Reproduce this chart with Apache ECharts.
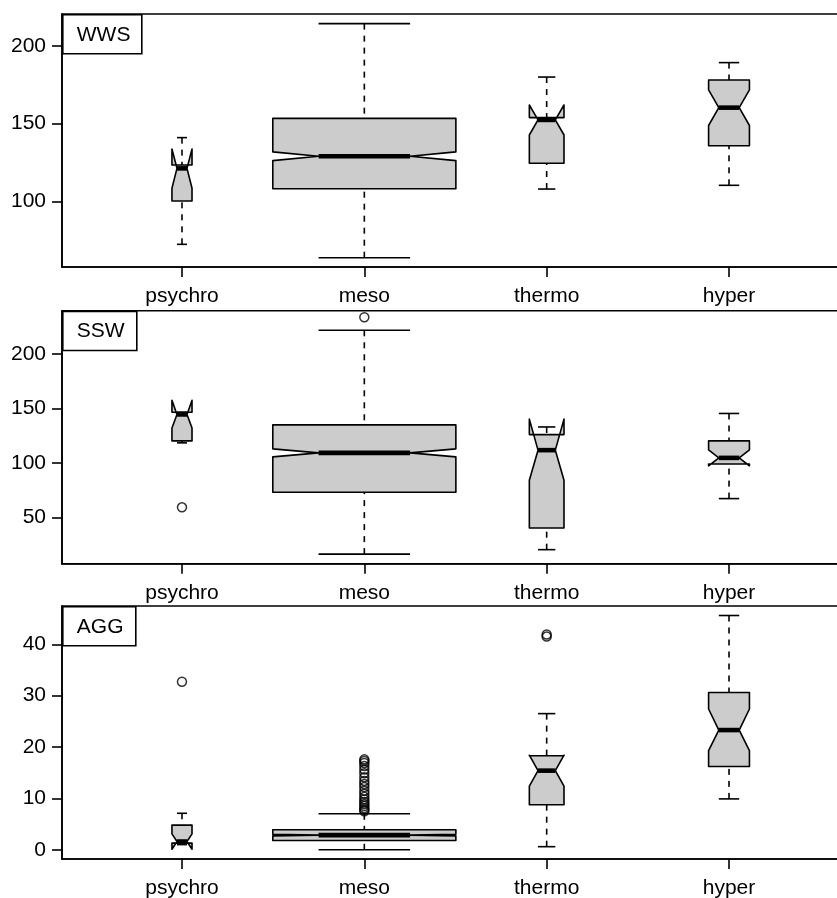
<!DOCTYPE html>
<html>
<head>
<meta charset="utf-8">
<title>WWS / SSW / AGG</title>
<script src="https://cdn.jsdelivr.net/npm/echarts@6/dist/echarts.min.js"></script>
<style>
  html, body { margin: 0; padding: 0; background: #fff; }
  #chart { width: 837px; height: 898px; }
</style>
</head>
<body>
<div id="chart"></div>
<script>
// 分组名称
const categories = ['psychro', 'meso', 'thermo', 'hyper']
// 箱体半宽（varwidth，按样本量）
const groupWidth = [0.055, 0.502, 0.095, 0.112]

// 每行：下须, Q1, 中位数, Q3, 上须, 缺口下限, 缺口上限
const wwsStats = [
  [72.3, 100.2, 121.2, 123.4, 141.0, 108.4, 133.7],
  [63.7, 108.1, 129.0, 153.4, 214.4, 126.2, 131.8],
  [107.9, 124.5, 152.4, 153.9, 180.0, 142.7, 162.0],
  [110.3, 135.8, 160.3, 178.1, 189.3, 148.8, 171.8]
]
const sswStats = [
  [118.4, 120.2, 144.5, 146.5, 146.5, 132.0, 157.5],
  [16.2, 73.0, 109.2, 134.9, 221.8, 105.5, 112.9],
  [20.3, 40.2, 111.7, 126.0, 133.0, 84.0, 140.2],
  [67.2, 99.0, 104.6, 120.2, 145.4, 97.3, 111.9]
]
const aggStats = [
  [1.0, 1.3, 1.6, 4.8, 7.1, 0.1, 3.1],
  [0.0, 1.8, 2.85, 3.9, 7.0, 2.7, 3.0],
  [0.6, 8.75, 15.4, 18.3, 26.5, 12.4, 18.4],
  [9.9, 16.2, 23.3, 30.6, 45.6, 19.3, 27.4]
]

// 离群点 [组序号, 值]
const wwsOutliers = []
const sswOutliers = [[1, 59.2], [2, 233.8]]
const aggOutliers = [
  [1, 32.7],
  [2, 7.5], [2, 7.8], [2, 8.1], [2, 8.5], [2, 8.9], [2, 9.3], [2, 9.8], [2, 10.3],
  [2, 10.9], [2, 11.5], [2, 12.2], [2, 12.8], [2, 13.4], [2, 14.1], [2, 14.9],
  [2, 15.6], [2, 16.3], [2, 16.9], [2, 17.3], [2, 17.6],
  [3, 41.5], [3, 41.9]
]

// y轴刻度
const wwsTicks = [100, 150, 200]
const sswTicks = [50, 100, 150, 200]
const aggTicks = [0, 10, 20, 30, 40]

const panels = [
  { name: 'WWS', stats: wwsStats, outliers: wwsOutliers, ticks: wwsTicks, min: 57.7, max: 220.6, top: 14, boxW: 79 },
  { name: 'SSW', stats: sswStats, outliers: sswOutliers, ticks: sswTicks, min: 7.4, max: 239.8, top: 310.7, boxW: 74 },
  { name: 'AGG', stats: aggStats, outliers: aggOutliers, ticks: aggTicks, min: -1.8, max: 47.45, top: 606, boxW: 73 }
]

const FONT = 'Liberation Sans, Arial, Helvetica, sans-serif'
const FONT_SIZE = 21
const GRID_LEFT = 62
const GRID_RIGHT = -12 // 右边框在画面外
const GRID_H = 253

/** 画带缺口的箱线 */
const renderBox = (params, api) => {
  const x = api.value(0)
  const lw = api.value(1)
  const q1 = api.value(2)
  const med = api.value(3)
  const q3 = api.value(4)
  const uw = api.value(5)
  const cl = api.value(6)
  const cu = api.value(7)
  const w = api.value(8)
  const nf = 0.5
  const P = (dx, y) => api.coord([x + dx, y])
  const pts = [
    P(-w, q1), P(w, q1), P(w, cl), P(w * nf, med), P(w, cu),
    P(w, q3), P(-w, q3), P(-w, cu), P(-w * nf, med), P(-w, cl)
  ]
  const seg = (a, b, style) => ({
    type: 'line',
    shape: { x1: a[0], y1: a[1], x2: b[0], y2: b[1] },
    style: Object.assign({ stroke: '#000', lineWidth: 1.6 }, style)
  })
  return {
    type: 'group',
    children: [
      {
        type: 'polygon',
        shape: { points: pts },
        style: { fill: '#cccccc', stroke: '#000', lineWidth: 1.6, lineJoin: 'round' }
      },
      seg(P(-w * nf, med), P(w * nf, med), { lineWidth: 4.6 }),
      seg(P(0, lw), P(0, q1), { lineDash: [6, 6] }),
      seg(P(0, uw), P(0, q3), { lineDash: [6, 6] }),
      seg(P(-w / 2, lw), P(w / 2, lw)),
      seg(P(-w / 2, uw), P(w / 2, uw))
    ]
  }
}

const grid = []
const xAxis = []
const yAxis = []
const series = []
const graphic = []

panels.forEach((p, k) => {
  grid.push({
    left: GRID_LEFT,
    right: GRID_RIGHT,
    top: p.top,
    height: GRID_H,
    outerBoundsMode: 'none',
    show: true,
    borderColor: '#000',
    borderWidth: 1.6,
    backgroundColor: 'transparent'
  })
  xAxis.push({
    type: 'value',
    gridIndex: k,
    min: 0.342,
    max: 4.658,
    splitLine: { show: false },
    axisLine: { show: true, onZero: false, lineStyle: { color: '#000', width: 1.6 } },
    axisTick: { show: true, length: 10, customValues: [1, 2, 3, 4], lineStyle: { color: '#000', width: 1.6 } },
    axisLabel: {
      customValues: [1, 2, 3, 4],
      formatter: (v) => categories[Math.round(v) - 1],
      color: '#000',
      fontSize: FONT_SIZE,
      fontFamily: FONT,
      margin: 19
    }
  })
  yAxis.push({
    type: 'value',
    gridIndex: k,
    min: p.min,
    max: p.max,
    splitLine: { show: false },
    axisLine: { show: true, onZero: false, lineStyle: { color: '#000', width: 1.6 } },
    axisTick: { show: true, length: 10, customValues: p.ticks, lineStyle: { color: '#000', width: 1.6 } },
    axisLabel: {
      customValues: p.ticks,
      color: '#000',
      fontSize: FONT_SIZE,
      fontFamily: FONT,
      margin: 16
    }
  })
  series.push({
    type: 'custom',
    xAxisIndex: k,
    yAxisIndex: k,
    renderItem: renderBox,
    encode: { x: 0, y: [1, 2, 3, 4, 5, 6, 7] },
    data: p.stats.map((s, i) => [i + 1].concat(s, [groupWidth[i]])),
    silent: true
  })
  series.push({
    type: 'scatter',
    xAxisIndex: k,
    yAxisIndex: k,
    symbol: 'circle',
    symbolSize: 9,
    itemStyle: { color: 'rgba(0,0,0,0)', borderColor: '#000', borderWidth: 1.5 },
    data: p.outliers,
    silent: true
  })
  // 左上角的标签框
  graphic.push({
    type: 'group',
    left: GRID_LEFT,
    top: p.top,
    children: [
      {
        type: 'rect',
        shape: { x: 0, y: 0, width: p.boxW, height: 39 },
        style: { fill: '#fff', stroke: '#000', lineWidth: 1.6 }
      },
      {
        type: 'text',
        x: 14,
        y: 20,
        style: { text: p.name, fill: '#000', font: FONT_SIZE + 'px ' + FONT, verticalAlign: 'middle' }
      }
    ]
  })
})

const chart = echarts.init(document.getElementById('chart'))
chart.setOption({
  animation: false,
  backgroundColor: '#fff',
  grid,
  xAxis,
  yAxis,
  series,
  graphic
})
</script>
</body>
</html>
